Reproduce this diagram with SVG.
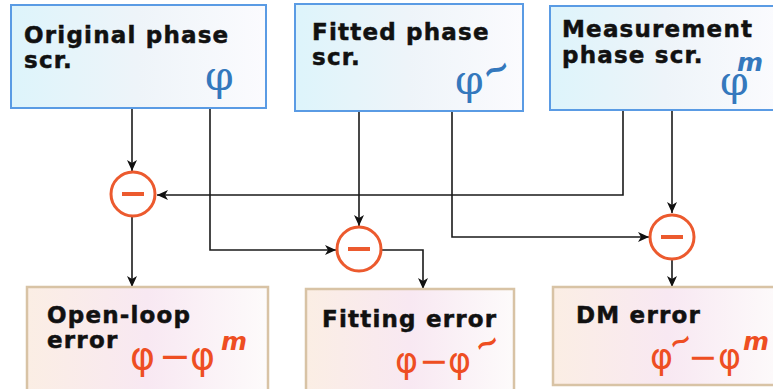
<svg xmlns="http://www.w3.org/2000/svg" width="773" height="389" viewBox="0 0 773 389">
  <defs>
    <linearGradient id="gSource" x1="0" y1="0" x2="1" y2="0">
      <stop offset="0" stop-color="#ddf4fb"/>
      <stop offset="0.5" stop-color="#eef4f9"/>
      <stop offset="1" stop-color="#fbfbfe"/>
    </linearGradient>
    <linearGradient id="gError" x1="0" y1="0" x2="1" y2="0">
      <stop offset="0" stop-color="#fbeee4"/>
      <stop offset="0.5" stop-color="#f8e8f2"/>
      <stop offset="1" stop-color="#fdfbfb"/>
    </linearGradient>
    <marker id="arrow" markerWidth="12" markerHeight="10" refX="11" refY="5" orient="auto" markerUnits="userSpaceOnUse">
      <path d="M0,0 L11,5 L0,10 L3,5 Z" fill="#111"/>
    </marker>
  </defs>
  <style>
    .src { fill: url(#gSource); stroke: #5a9be4; stroke-width: 2; }
    .err { fill: url(#gError); stroke: #d8c3a5; stroke-width: 2.5; }
    .label { font-family: "DejaVu Sans", sans-serif; font-weight: bold; font-size: 23px; fill: #111; stroke: #111; stroke-width: 0.5; letter-spacing: 1.2px; }
    .phi-b { font-family: "DejaVu Serif", serif; font-size: 41px; fill: #3478bd; }
    .formula { font-family: "DejaVu Sans", sans-serif; fill: #ee4e22; }
    .sup { font-family: "DejaVu Sans", sans-serif; font-weight: bold; font-style: italic; font-size: 25px; }
    .tilde { font-family: "DejaVu Sans", sans-serif; font-weight: bold; }
    .sub circle { fill: #fff; stroke: #ec5a2e; stroke-width: 3; }
    .sub line { stroke: #ec5a2e; stroke-width: 4; }
    .conn path { fill: none; stroke: #1a1a1a; stroke-width: 1.6; marker-end: url(#arrow); }
  </style>

  <!-- connectors -->
  <g id="connectors" class="conn">
    <path d="M132,109 V171"/>
    <path d="M210,109 V250 H336"/>
    <path d="M359,111 V226"/>
    <path d="M452,111 V237 H649"/>
    <path d="M623,110 V195 H157"/>
    <path d="M672,110 V213"/>
    <path d="M132,217 V287"/>
    <path d="M382,250 H423 V289"/>
    <path d="M672,260 V287"/>
  </g>

  <!-- source screens -->
  <g id="original">
    <rect class="src" x="11" y="5" width="255" height="103"/>
    <text class="label"><tspan x="24" y="43">Original phase</tspan><tspan x="24" y="68">scr.</tspan></text>
    <text class="phi-b" x="205" y="90">φ</text>
  </g>
  <g id="fitted">
    <rect class="src" x="295" y="4" width="228" height="107"/>
    <text class="label"><tspan x="312" y="40">Fitted phase</tspan><tspan x="312" y="65">scr.</tspan></text>
    <text class="phi-b"><tspan x="455" y="94">φ</tspan><tspan class="tilde" x="487" y="85" font-size="34" rotate="-22">~</tspan></text>
  </g>
  <g id="measurement">
    <rect class="src" x="550" y="6" width="230" height="104"/>
    <text class="label"><tspan x="562" y="37">Measurement</tspan><tspan x="562" y="63">phase scr.</tspan></text>
    <text class="phi-b"><tspan x="720" y="95">φ</tspan><tspan class="sup" x="737" y="71" font-size="22">m</tspan></text>
  </g>

  <!-- subtraction nodes -->
  <g id="sub-openloop" class="sub">
    <circle cx="133" cy="194" r="22"/>
    <line x1="122" y1="194" x2="144" y2="194"/>
  </g>
  <g id="sub-fitting" class="sub">
    <circle cx="359" cy="249" r="22"/>
    <line x1="348" y1="249" x2="370" y2="249"/>
  </g>
  <g id="sub-dm" class="sub">
    <circle cx="672" cy="237" r="22"/>
    <line x1="661" y1="237" x2="683" y2="237"/>
  </g>

  <!-- error results -->
  <g id="openloop-error">
    <rect class="err" x="27" y="287" width="241" height="110"/>
    <text class="label"><tspan x="47" y="323">Open-loop</tspan><tspan x="47" y="348">error</tspan></text>
    <text class="formula" font-size="38"><tspan x="130" y="369">φ</tspan><tspan x="159" y="369">−</tspan><tspan x="190" y="369">φ</tspan><tspan class="sup" x="221" y="350">m</tspan></text>
  </g>
  <g id="fitting-error">
    <rect class="err" x="306" y="289" width="208" height="110"/>
    <text class="label" x="322" y="327">Fitting error</text>
    <text class="formula" font-size="35"><tspan x="395" y="373">φ</tspan><tspan x="419" y="373">−</tspan><tspan x="448" y="373">φ</tspan><tspan class="tilde" x="479" y="357" font-size="30" rotate="-22">~</tspan></text>
  </g>
  <g id="dm-error">
    <rect class="err" x="553" y="287" width="230" height="98"/>
    <text class="label" x="576" y="323">DM error</text>
    <text class="formula" font-size="35"><tspan x="650" y="369">φ</tspan><tspan class="tilde" x="673" y="354" font-size="28" rotate="-22">~</tspan><tspan x="688" y="369">−</tspan><tspan x="718" y="369">φ</tspan><tspan class="sup" x="743" y="350">m</tspan></text>
  </g>
</svg>
